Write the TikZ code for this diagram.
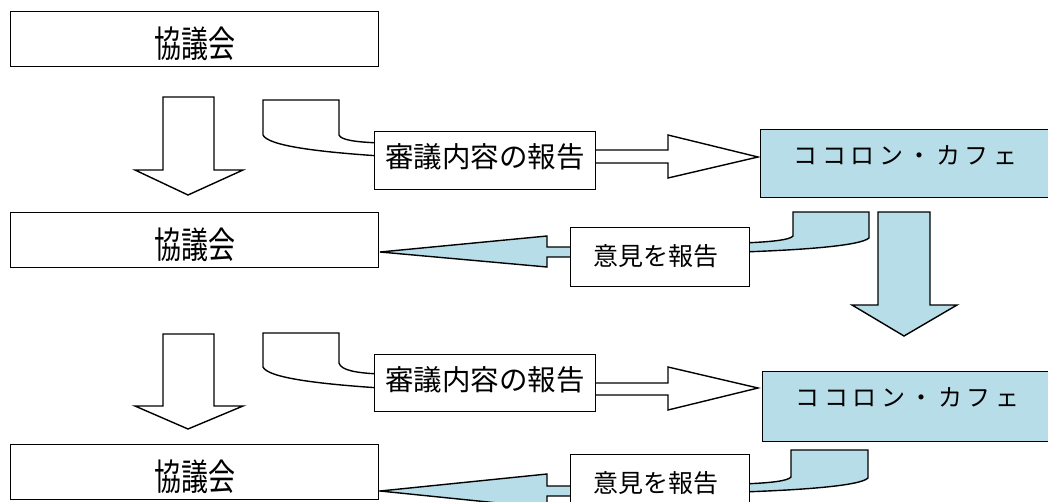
\documentclass[tikz,border=0pt]{standalone}
\usepackage{fontspec}
\usepackage{graphicx}
\newfontfamily\jp{Noto Sans CJK JP}
\definecolor{cafeblue}{RGB}{183,221,232}
\tikzset{
  outline/.style={draw=black, line width=1.4pt, line join=miter},
  whitearrow/.style={outline, fill=white},
  bluearrow/.style={outline, fill=cafeblue},
  box/.style={outline, fill=white, rectangle, anchor=north west, inner sep=0pt},
  kbox/.style={box, minimum width=368pt, text height=45.4pt, text depth=9.6pt,
    font=\jp\fontsize{27pt}{27pt}\selectfont},
  sbox/.style={box, minimum width=221pt, text height=35.6pt, text depth=22.4pt,
    font=\jp\fontsize{28.5pt}{28.5pt}\selectfont},
  obox/.style={box, minimum width=179pt, text height=38.2pt, text depth=20.8pt,
    font=\jp\fontsize{25pt}{25pt}\selectfont},
  cbox/.style={box, fill=cafeblue, minimum width=290pt, text height=34.6pt, text depth=34pt,
    font=\jp\fontsize{24pt}{24pt}\selectfont},
}
\newcommand{\kyogikai}{\scalebox{1}[1.35]{協議会}}
\newcommand{\cafetext}{コ\hspace{4.5pt}コ\hspace{4.5pt}ロ\hspace{4.5pt}ン\hspace{4.5pt}・\hspace{4.5pt}カ\hspace{4.5pt}フ\hspace{4.5pt}ェ}
\begin{document}
\begin{tikzpicture}[x=1pt,y=-1pt]
\useasboundingbox (0,0) rectangle (1048,501);

% ---------- arrows (drawn first, boxes cover their ends) ----------
% row 1
\draw[whitearrow] (163,97) -- (214,97) -- (214,170) -- (243,170) -- (188,195) -- (135,170) -- (163,170) -- cycle;
\draw[whitearrow] (263,100) -- (339,100) -- (339,135) .. controls (341,140) and (355,142) .. (380,143)
  -- (380,156) .. controls (320,152) and (268,146) .. (263,135) -- cycle;
\draw[whitearrow] (590,150) -- (668,150) -- (668,135) -- (758,157) -- (668,178) -- (668,163) -- (590,163) -- cycle;
\draw[bluearrow] (576,247) -- (547,247) -- (547,236) -- (380,252) -- (547,267) -- (547,257) -- (576,257) -- cycle;
\draw[bluearrow] (742,243) .. controls (770,242) and (790,240) .. (793,236) -- (793,212) -- (869,212)
  -- (869,238) .. controls (860,246) and (800,250) .. (742,252) -- cycle;
\draw[bluearrow] (878,212) -- (930,212) -- (930,305) -- (957,305) -- (904,336) -- (852,305) -- (878,305) -- cycle;
% row 2
\draw[whitearrow] (163,334) -- (214,334) -- (214,406) -- (243,406) -- (188,429) -- (135,406) -- (163,406) -- cycle;
\draw[whitearrow] (263,333) -- (339,333) -- (339,363) .. controls (341,370) and (355,373) .. (380,374)
  -- (380,388) .. controls (320,384) and (268,378) .. (263,367) -- cycle;
\draw[whitearrow] (590,383) -- (668,383) -- (668,367) -- (758,388) -- (668,410) -- (668,395) -- (590,395) -- cycle;
\draw[bluearrow] (576,486) -- (547,486) -- (547,474) -- (380,491) -- (547,508) -- (547,496) -- (576,496) -- cycle;
\draw[bluearrow] (742,484) .. controls (770,483) and (788,481) .. (791,477) -- (791,450) -- (868,450)
  -- (868,478) .. controls (860,486) and (800,490) .. (742,492) -- cycle;

% ---------- boxes ----------
\node[kbox] (k1) at (10,11) {\kyogikai};
\node[sbox] (s1) at (374,131) {審議内容の報告};
\node[cbox, text height=34.6pt, text depth=33.4pt] (c1) at (760,129) {\cafetext};
\node[kbox] (k2) at (10,212) {\kyogikai};
\node[obox] (o1) at (570,227) {\hspace*{-9pt}意見を報告};
\node[sbox, text height=35.6pt, text depth=21.4pt] (s2) at (374,354) {審議内容の報告};
\node[cbox, text height=34.6pt, text depth=35.4pt] (c2) at (762,371) {\cafetext};
\node[kbox] (k3) at (10,444) {\kyogikai};
\node[obox] (o2) at (570,454) {\hspace*{-9pt}意見を報告};
\end{tikzpicture}
\end{document}
